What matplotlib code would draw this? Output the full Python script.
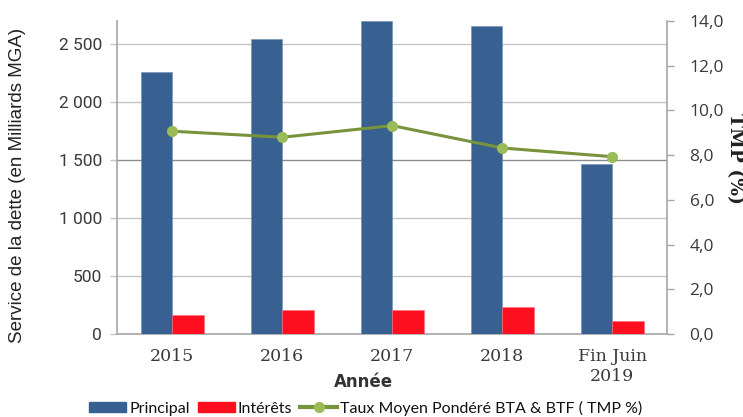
import matplotlib
matplotlib.use("Agg")
import matplotlib.pyplot as plt
import numpy as np
from matplotlib.patches import Patch
from matplotlib.lines import Line2D

categories = ["2015", "2016", "2017", "2018", "Fin Juin\n2019"]
principal = [2256, 2541, 2696, 2661, 1466]
interets = [164, 207, 207, 235, 109]
tmp = [9.07, 8.80, 9.32, 8.32, 7.93]
left_ticks = [0, 500, 1000, 1500, 2000, 2500]
left_labels = ["0", "500", "1 000", "1 500", "2 000", "2 500"]
right_ticks = [0, 2, 4, 6, 8, 10, 12, 14]
right_labels = ["0,0", "2,0", "4,0", "6,0", "8,0", "10,0", "12,0", "14,0"]

BLUE = "#386090"
RED = "#FE0E1E"
GREEN_L = "#77933C"
GREEN_M = "#9BBB59"
GRID = "#C4C4C4"
SPINE = "#A6A6A6"
TXT = "#3a3a3a"

fig = plt.figure(figsize=(7.43, 4.17), dpi=100)
ax = fig.add_axes([117.3/743, 1-334/417, 550/743, 313/417])
ax2 = ax.twinx()

x = np.arange(len(categories))
w = 0.286
ax.bar(x - w/2, principal, w, color=BLUE, edgecolor="#6f8fb5", linewidth=0.4, zorder=3)
ax.bar(x + w/2, interets, w, color=RED, edgecolor="#ff6f7a", linewidth=0.4, zorder=3)

ax.set_xlim(-0.5, 4.5)
ax.set_ylim(0, 2700)
ax.set_yticks(left_ticks)
ax.set_yticklabels(left_labels, fontfamily="Roboto", fontsize=12.5, color=TXT)
ax.tick_params(axis="y", length=5, width=1, color=GRID, pad=6)
ax.set_xticks(x)
ax.set_xticklabels(categories, fontfamily="DejaVu Serif", fontsize=12.5, color=TXT, linespacing=1.25)
ax.tick_params(axis="x", length=0, pad=10)
for t in left_ticks[1:]:
    ax.axhline(t, color=("#8c8c8c" if t == 1500 else GRID), lw=1.0, zorder=1)

for s in ["top", "right"]:
    ax.spines[s].set_visible(False)
ax.spines["left"].set_color(SPINE)
ax.spines["left"].set_linewidth(1.2)
ax.spines["bottom"].set_color(SPINE)
ax.spines["bottom"].set_linewidth(1.2)

ax2.plot(x, tmp, color=GREEN_L, lw=2.2, marker="o", markersize=7,
         markerfacecolor=GREEN_M, markeredgecolor=GREEN_M, zorder=5)
ax2.set_ylim(0, 14)
ax2.set_yticks(right_ticks)
ax2.set_yticklabels(right_labels, fontfamily="Open Sans", fontsize=12.5, color=TXT)
ax2.tick_params(axis="y", length=5, width=1, color=SPINE, pad=11)
for s in ["top", "left", "bottom"]:
    ax2.spines[s].set_visible(False)
ax2.spines["right"].set_color(SPINE)
ax2.spines["right"].set_linewidth(1.2)
ax.set_zorder(ax2.get_zorder() - 1)
ax.patch.set_visible(True)
ax2.patch.set_visible(False)

fig.text(18/743, 1-185/417, "Service de la dette (en Milliards MGA)", rotation=90,
         ha="center", va="center", fontfamily="Liberation Sans", fontsize=13.5, color="#222222")
fig.text(735/743, 1-158/417, "TMP (%)", rotation=-90, ha="center", va="center",
         fontfamily="DejaVu Serif", fontweight="bold", fontsize=13.5, color="#222222")
fig.text(363/743, 1-382/417, "Année", ha="center", va="center",
         fontfamily="DejaVu Sans", fontweight="bold", fontsize=12, color="#333333")

handles = [Patch(facecolor=BLUE, edgecolor=BLUE),
           Patch(facecolor=RED, edgecolor=RED),
           Line2D([0], [0], color=GREEN_L, lw=3, marker="o", markersize=7,
                  markerfacecolor=GREEN_M, markeredgecolor=GREEN_M)]
labels = ["Principal", "Intérêts", "Taux Moyen Pondéré BTA & BTF ( TMP %)"]
leg = fig.legend(handles, labels, loc="center", bbox_to_anchor=(366/743, 1-408/417),
                 ncol=3, frameon=False, handlelength=2.3, handleheight=0.6,
                 handletextpad=0.2, columnspacing=0.5, borderaxespad=0,
                 prop={"family": ["Lato", "DejaVu Sans"], "size": 11.5})
for t in leg.get_texts():
    t.set_color("#111111")

fig.savefig("out.png", dpi=100)
